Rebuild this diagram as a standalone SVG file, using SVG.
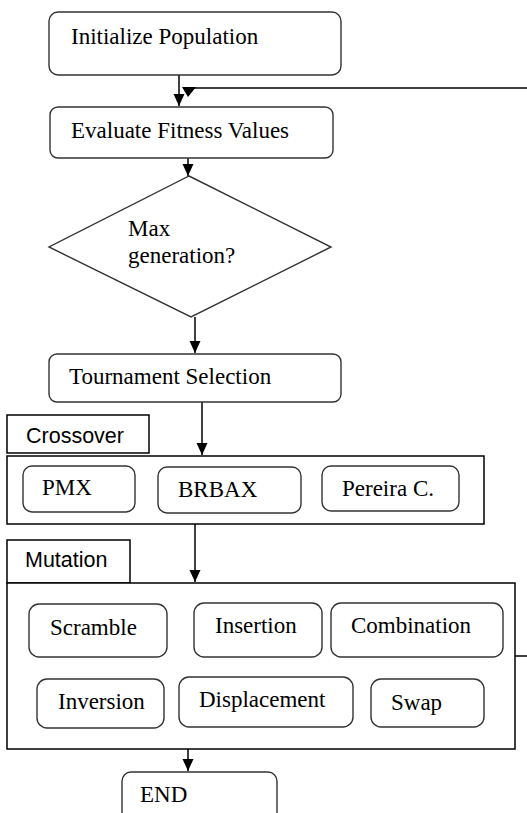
<svg xmlns="http://www.w3.org/2000/svg" width="527" height="813" viewBox="0 0 527 813">
<style>
.rb{fill:#fff;stroke:#333;stroke-width:1.4}
.sq{fill:#fff;stroke:#000;stroke-width:1.5}
.t{font-family:"Liberation Serif","Times New Roman",serif;font-size:23px;fill:#000}
.s{font-family:"Liberation Sans",Arial,sans-serif;font-size:21.5px;fill:#000}
.c{fill:none;stroke:#000;stroke-width:1.5}
</style>
<defs>
<marker id="ah" viewBox="0 0 12 12" refX="12" refY="6" markerWidth="12" markerHeight="12" markerUnits="userSpaceOnUse" orient="auto">
<path d="M0,0.5 L12,6 L0,11.5 Z" fill="#000"/>
</marker>
</defs>
<g id="connectors">
<line class="c" x1="179" y1="75" x2="179" y2="106" marker-end="url(#ah)"/>
<line class="c" x1="527" y1="88" x2="190" y2="88"/>
<polygon points="182,87 196,87 188,97" fill="#000"/>
<line class="c" x1="188" y1="158" x2="188" y2="176" marker-end="url(#ah)"/>
<line class="c" x1="195" y1="317" x2="195" y2="353" marker-end="url(#ah)"/>
<line class="c" x1="202" y1="402" x2="202" y2="455" marker-end="url(#ah)"/>
<line class="c" x1="195" y1="524" x2="195" y2="582" marker-end="url(#ah)"/>
<line class="c" x1="188" y1="749" x2="188" y2="771" marker-end="url(#ah)"/>
<line class="c" x1="515" y1="656" x2="527" y2="656"/>
</g>
<g id="init"><rect class="rb" x="49" y="12" width="292" height="63" rx="9"/><text class="t" x="71" y="44">Initialize Population</text></g>
<g id="eval"><rect class="rb" x="50" y="107" width="283" height="51" rx="8"/><text class="t" x="71" y="138">Evaluate Fitness Values</text></g>
<g id="maxgen"><polygon class="rb" points="189,176 331,247 191,317 49,247"/><text class="t" x="128" y="236">Max</text><text class="t" x="128" y="263">generation?</text></g>
<g id="tournament"><rect class="rb" x="49" y="354" width="292" height="48" rx="8"/><text class="t" x="69" y="384">Tournament Selection</text></g>
<g id="crossover-label"><rect class="sq" x="7" y="415" width="142" height="38"/><text class="s" x="26" y="443">Crossover</text></g>
<g id="crossover"><rect class="sq" x="7" y="456" width="477" height="68"/></g>
<g id="pmx"><rect class="rb" x="23" y="466" width="112" height="46" rx="9"/><text class="t" x="42" y="495">PMX</text></g>
<g id="brbax"><rect class="rb" x="158" y="467" width="143" height="46" rx="9"/><text class="t" x="178" y="497">BRBAX</text></g>
<g id="pereira"><rect class="rb" x="322" y="466" width="137" height="45" rx="9"/><text class="t" x="342" y="496">Pereira C.</text></g>
<g id="mutation-label"><rect class="sq" x="7" y="540" width="123" height="43"/><text class="s" x="25" y="567">Mutation</text></g>
<g id="mutation"><rect class="sq" x="7" y="583" width="508" height="166"/></g>
<g id="scramble"><rect class="rb" x="29" y="604" width="138" height="53" rx="10"/><text class="t" x="50" y="635">Scramble</text></g>
<g id="insertion"><rect class="rb" x="194" y="603" width="128" height="54" rx="10"/><text class="t" x="215" y="633">Insertion</text></g>
<g id="combination"><rect class="rb" x="331" y="603" width="172" height="54" rx="10"/><text class="t" x="351" y="633">Combination</text></g>
<g id="inversion"><rect class="rb" x="37" y="679" width="127" height="49" rx="10"/><text class="t" x="58" y="709">Inversion</text></g>
<g id="displacement"><rect class="rb" x="179" y="677" width="174" height="50" rx="10"/><text class="t" x="199" y="707">Displacement</text></g>
<g id="swap"><rect class="rb" x="371" y="679" width="113" height="48" rx="10"/><text class="t" x="391" y="710">Swap</text></g>
<g id="end"><rect class="rb" x="122" y="772" width="155" height="60" rx="9"/><text class="t" x="140" y="802">END</text></g>
</svg>
